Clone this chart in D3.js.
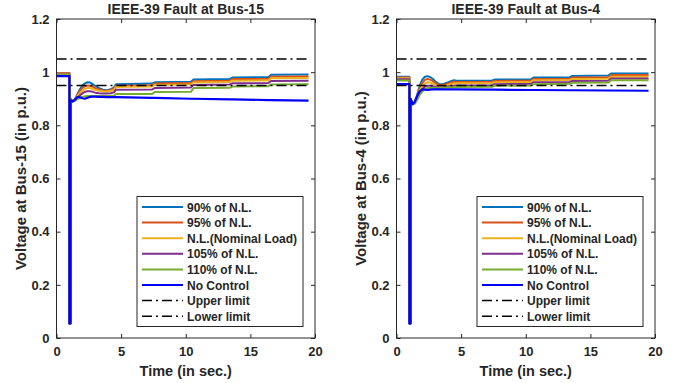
<!DOCTYPE html>
<html>
<head>
<meta charset="utf-8">
<script src="https://cdn.jsdelivr.net/npm/d3@7"></script>
<style>
  body { margin: 0; background: #fff; }
  svg text { font-family: "Liberation Sans", Arial, Helvetica, sans-serif; font-weight: bold; fill: #262626; }
</style>
</head>
<body>
<div id="chart"></div>
<script>
////////// Data
var time = [0, 1.0, 1.0, 1.08, 1.08, 1.25, 1.4, 1.6, 1.8, 2.0, 2.2, 2.4, 2.6, 2.8, 3.0, 3.3, 3.6, 3.9, 4.2, 4.45,
            4.6, 7.4, 7.6, 10.4, 10.6, 13.4, 13.6, 16.4, 16.6, 19.5];

// fault at bus-15
var bus15_90  = [0.997,0.997,0.055,0.055,0.900,0.893,0.896,0.915,0.935,0.950,0.958,0.962,0.961,0.955,0.948,0.940,0.934,0.932,0.936,0.942,
                 0.955,0.957,0.962,0.964,0.972,0.974,0.980,0.981,0.990,0.991];
var bus15_95  = [0.996,0.996,0.055,0.055,0.900,0.893,0.895,0.912,0.928,0.940,0.947,0.950,0.949,0.945,0.940,0.935,0.931,0.930,0.933,0.938,
                 0.949,0.951,0.957,0.959,0.966,0.968,0.974,0.975,0.983,0.984];
var bus15_100 = [0.994,0.994,0.055,0.055,0.900,0.892,0.894,0.908,0.920,0.930,0.937,0.940,0.940,0.937,0.933,0.930,0.928,0.927,0.929,0.933,
                 0.944,0.946,0.952,0.954,0.961,0.963,0.968,0.969,0.977,0.978];
var bus15_105 = [0.991,0.991,0.055,0.055,0.900,0.891,0.893,0.903,0.912,0.920,0.926,0.928,0.928,0.926,0.923,0.921,0.920,0.920,0.921,0.924,
                 0.934,0.935,0.940,0.942,0.952,0.954,0.958,0.959,0.967,0.968];
var bus15_110 = [0.989,0.989,0.055,0.055,0.900,0.890,0.892,0.898,0.903,0.907,0.909,0.910,0.910,0.910,0.910,0.910,0.910,0.910,0.910,0.911,
                 0.918,0.918,0.925,0.926,0.940,0.941,0.946,0.947,0.954,0.955];
var bus15_nc  = [0.985,0.985,0.055,0.055,0.895,0.889,0.895,0.906,0.906,0.902,0.900,0.904,0.907,0.908,0.908,0.907,0.907,0.906,0.906,0.906,
                 0.906,0.903,0.903,0.900,0.900,0.898,0.898,0.895,0.895,0.893];

// fault at bus-4
var bus4_90  = [0.983,0.983,0.055,0.055,0.900,0.882,0.885,0.915,0.950,0.972,0.983,0.985,0.982,0.975,0.965,0.955,0.955,0.960,0.966,0.970,
                0.968,0.969,0.972,0.973,0.980,0.981,0.986,0.987,0.995,0.995];
var bus4_95  = [0.980,0.980,0.055,0.055,0.900,0.881,0.884,0.910,0.940,0.960,0.971,0.974,0.972,0.967,0.959,0.952,0.952,0.956,0.961,0.964,
                0.963,0.964,0.967,0.968,0.974,0.975,0.980,0.981,0.989,0.989];
var bus4_100 = [0.977,0.977,0.055,0.055,0.900,0.880,0.883,0.905,0.930,0.948,0.958,0.962,0.961,0.957,0.952,0.948,0.948,0.951,0.955,0.957,
                0.958,0.959,0.962,0.963,0.970,0.971,0.974,0.975,0.983,0.983];
var bus4_105 = [0.973,0.973,0.055,0.055,0.900,0.879,0.882,0.900,0.922,0.937,0.946,0.949,0.949,0.947,0.944,0.942,0.943,0.945,0.948,0.949,
                0.950,0.951,0.955,0.956,0.962,0.963,0.967,0.968,0.976,0.976];
var bus4_110 = [0.969,0.969,0.055,0.055,0.900,0.878,0.881,0.896,0.915,0.928,0.936,0.940,0.941,0.941,0.940,0.940,0.941,0.942,0.943,0.944,
                0.944,0.945,0.949,0.950,0.955,0.956,0.960,0.961,0.970,0.970];
var bus4_nc  = [0.955,0.955,0.055,0.055,0.900,0.880,0.888,0.910,0.928,0.935,0.934,0.933,0.934,0.935,0.935,0.935,0.935,0.935,0.935,0.935,
                0.935,0.934,0.934,0.933,0.933,0.932,0.932,0.931,0.931,0.930];

var limitTime = [0, 19.5];
var upperLimit = 1.05;
var lowerLimit = 0.95;

var seriesNames = ["90% of N.L.", "95% of N.L.", "N.L.(Nominal Load)", "105% of N.L.", "110% of N.L.", "No Control"];
var limitNames = ["Upper limit", "Lower limit"];
var seriesColors = ["#0072BD", "#D95319", "#EDB120", "#7E2F8E", "#77AC30", "#0000FF"];

var xTicks = [0, 5, 10, 15, 20];
var yTicks = [0, 0.2, 0.4, 0.6, 0.8, 1, 1.2];

var panels = [
  { title: "IEEE-39 Fault at Bus-15", ylabel: "Voltage at Bus-15 (in p.u.)", left: 56.5,
    series: [bus15_90, bus15_95, bus15_100, bus15_105, bus15_110, bus15_nc] },
  { title: "IEEE-39 Fault at Bus-4", ylabel: "Voltage at Bus-4 (in p.u.)", left: 396.5,
    series: [bus4_90, bus4_95, bus4_100, bus4_105, bus4_110, bus4_nc] }
];

var W = 682, H = 383;
var plotW = 258.5, plotTop = 19, plotBottom = 338;
var dashDot = "10,4,2,4";

var svg = d3.select("#chart").append("svg").attr("width", W).attr("height", H);

panels.forEach(function(p) {
  var x = d3.scaleLinear().domain([0, 20]).range([p.left, p.left + plotW]);
  var y = d3.scaleLinear().domain([0, 1.2]).range([plotBottom, plotTop]);
  var g = svg.append("g");

  // axes (MATLAB style, ticks inward, box on)
  g.append("g").attr("transform", "translate(0," + plotBottom + ")")
    .call(d3.axisBottom(x).tickValues(xTicks).tickSize(-4).tickPadding(9).tickFormat(d3.format("d")))
    .call(function(a) { a.select(".domain").remove(); a.selectAll("text").style("font-size", "13px"); });
  g.append("g").attr("transform", "translate(0," + plotTop + ")")
    .call(d3.axisTop(x).tickValues(xTicks).tickSize(-4).tickFormat(""))
    .call(function(a) { a.select(".domain").remove(); });
  g.append("g").attr("transform", "translate(" + p.left + ",0)")
    .call(d3.axisLeft(y).tickValues(yTicks).tickSize(-4).tickPadding(7).tickFormat(d3.format("~g")))
    .call(function(a) { a.select(".domain").remove(); a.selectAll("text").style("font-size", "13px"); });
  g.append("g").attr("transform", "translate(" + (p.left + plotW) + ",0)")
    .call(d3.axisRight(y).tickValues(yTicks).tickSize(-4).tickFormat(""))
    .call(function(a) { a.select(".domain").remove(); });
  g.selectAll(".tick line").attr("stroke", "#262626");

  var line = d3.line()
    .x(function(d) { return x(d[0]); })
    .y(function(d) { return y(d[1]); });

  p.series.forEach(function(s, i) {
    var pts = time.map(function(t, k) { return [t, s[k]]; });
    g.append("path").datum(pts)
      .attr("fill", "none")
      .attr("stroke", seriesColors[i])
      .attr("stroke-width", i == 5 ? 2.2 : 2)
      .attr("stroke-linejoin", "round")
      .attr("d", line);
  });

  [upperLimit, lowerLimit].forEach(function(v) {
    g.append("path").datum(limitTime.map(function(t) { return [t, v]; }))
      .attr("fill", "none").attr("stroke", "#000").attr("stroke-width", 1.5)
      .attr("stroke-dasharray", dashDot)
      .attr("d", line);
  });

  // box
  g.append("rect").attr("x", p.left).attr("y", plotTop).attr("width", plotW).attr("height", plotBottom - plotTop)
    .attr("fill", "none").attr("stroke", "#262626").attr("stroke-width", 1);

  // title and labels
  g.append("text").attr("x", p.left + plotW / 2).attr("y", 14)
    .style("text-anchor", "middle").style("font-size", "14px").text(p.title);
  g.append("text").attr("x", p.left + plotW / 2).attr("y", 376)
    .style("text-anchor", "middle").style("font-size", "14.5px").text("Time (in sec.)");
  g.append("text").attr("transform", "translate(" + (p.left - 31) + "," + ((plotTop + plotBottom) / 2) + ") rotate(-90)")
    .style("text-anchor", "middle").style("font-size", "15px").text(p.ylabel);

  // legend
  var lx = p.left + 80.5, ly = 196.5, lw = 166, lh = 130, rowH = 15.6;
  var leg = g.append("g");
  leg.append("rect").attr("x", lx).attr("y", ly).attr("width", lw).attr("height", lh)
    .attr("fill", "#fff").attr("stroke", "#262626").attr("stroke-width", 1);
  var names = seriesNames.concat(limitNames);
  names.forEach(function(n, i) {
    var ry = ly + 10.5 + i * rowH;
    leg.append("line").attr("x1", lx + 5).attr("x2", lx + 46).attr("y1", ry).attr("y2", ry)
      .attr("stroke", i < 6 ? seriesColors[i] : "#000")
      .attr("stroke-width", i < 6 ? 2 : 1.5)
      .attr("stroke-dasharray", i < 6 ? null : dashDot);
    leg.append("text").attr("x", lx + 50).attr("y", ry + 4.5)
      .style("font-size", "12px").text(n);
  });
});
</script>
</body>
</html>
